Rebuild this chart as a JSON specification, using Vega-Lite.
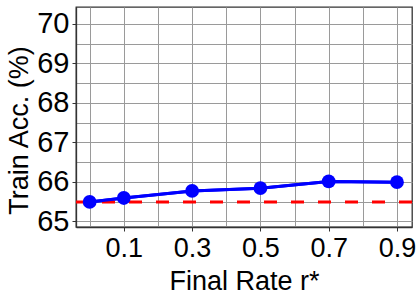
{
  "$schema": "https://vega.github.io/schema/vega-lite/v6.json",
  "autosize": {"type": "none"},
  "width": 336,
  "height": 220,
  "padding": {"left": 76, "top": 7, "right": 8, "bottom": 73},
  "background": "white",
  "config": {
    "font": "Liberation Sans",
    "view": {"stroke": "#333333", "strokeWidth": 1.3},
    "axis": {
      "domainColor": "#333333",
      "domainWidth": 1.3,
      "tickColor": "#333333",
      "tickWidth": 1,
      "tickSize": 4,
      "labelColor": "black",
      "titleColor": "black",
      "titleFontWeight": "normal",
      "gridColor": "#9a9a9a",
      "gridWidth": 1,
      "gridOpacity": 1
    }
  },
  "datasets": {
    "acc": [
      {"r": 0.0, "acc": 65.49},
      {"r": 0.1, "acc": 65.59},
      {"r": 0.3, "acc": 65.77},
      {"r": 0.5, "acc": 65.84},
      {"r": 0.7, "acc": 66.01},
      {"r": 0.9, "acc": 65.99}
    ],
    "base": [{"acc": 65.49}]
  },
  "resolve": {"axis": {"x": "independent", "y": "independent"}},
  "layer": [
    {
      "data": {"name": "acc"},
      "mark": {"type": "line", "color": "#0000ff", "strokeWidth": 3},
      "encoding": {
        "x": {
          "field": "r", "type": "quantitative",
          "scale": {"domain": [-0.04, 0.944], "nice": false, "zero": false},
          "axis": {"orient": "top", "values": [0, 0.1, 0.2, 0.3, 0.4, 0.5, 0.6, 0.7, 0.8, 0.9], "grid": true, "labels": false, "ticks": false, "domain": false, "title": null}
        },
        "y": {
          "field": "acc", "type": "quantitative",
          "scale": {"domain": [64.855, 70.43], "nice": false, "zero": false},
          "axis": {"orient": "right", "values": [65, 65.5, 66, 66.5, 67, 67.5, 68, 68.5, 69, 69.5, 70], "grid": true, "labels": false, "ticks": false, "domain": false, "title": null}
        }
      }
    },
    {
      "data": {"name": "base"},
      "mark": {"type": "rule", "color": "#ff0000", "strokeWidth": 3, "strokeDash": [13, 14]},
      "encoding": {
        "y": {"field": "acc", "type": "quantitative", "axis": null}
      }
    },
    {
      "data": {"name": "acc"},
      "mark": {"type": "line", "color": "#0000ff", "strokeWidth": 3},
      "encoding": {
        "x": {"field": "r", "type": "quantitative", "axis": null},
        "y": {"field": "acc", "type": "quantitative", "axis": null}
      }
    },
    {
      "data": {"name": "acc"},
      "mark": {"type": "point", "filled": true, "color": "#0000ff", "opacity": 1, "size": 190},
      "encoding": {
        "x": {
          "field": "r", "type": "quantitative",
          "axis": {"orient": "bottom", "values": [0.1, 0.3, 0.5, 0.7, 0.9], "format": ".1f", "grid": false, "title": "Final Rate r*", "labelFontSize": 27, "titleFontSize": 27, "labelPadding": 4, "titlePadding": 7}
        },
        "y": {
          "field": "acc", "type": "quantitative",
          "axis": {"orient": "left", "values": [65, 66, 67, 68, 69, 70], "format": "d", "grid": false, "title": "Train Acc. (%)", "labelFontSize": 29, "titleFontSize": 27, "titleY": 123, "labelPadding": 3, "titlePadding": 3}
        }
      }
    }
  ]
}
